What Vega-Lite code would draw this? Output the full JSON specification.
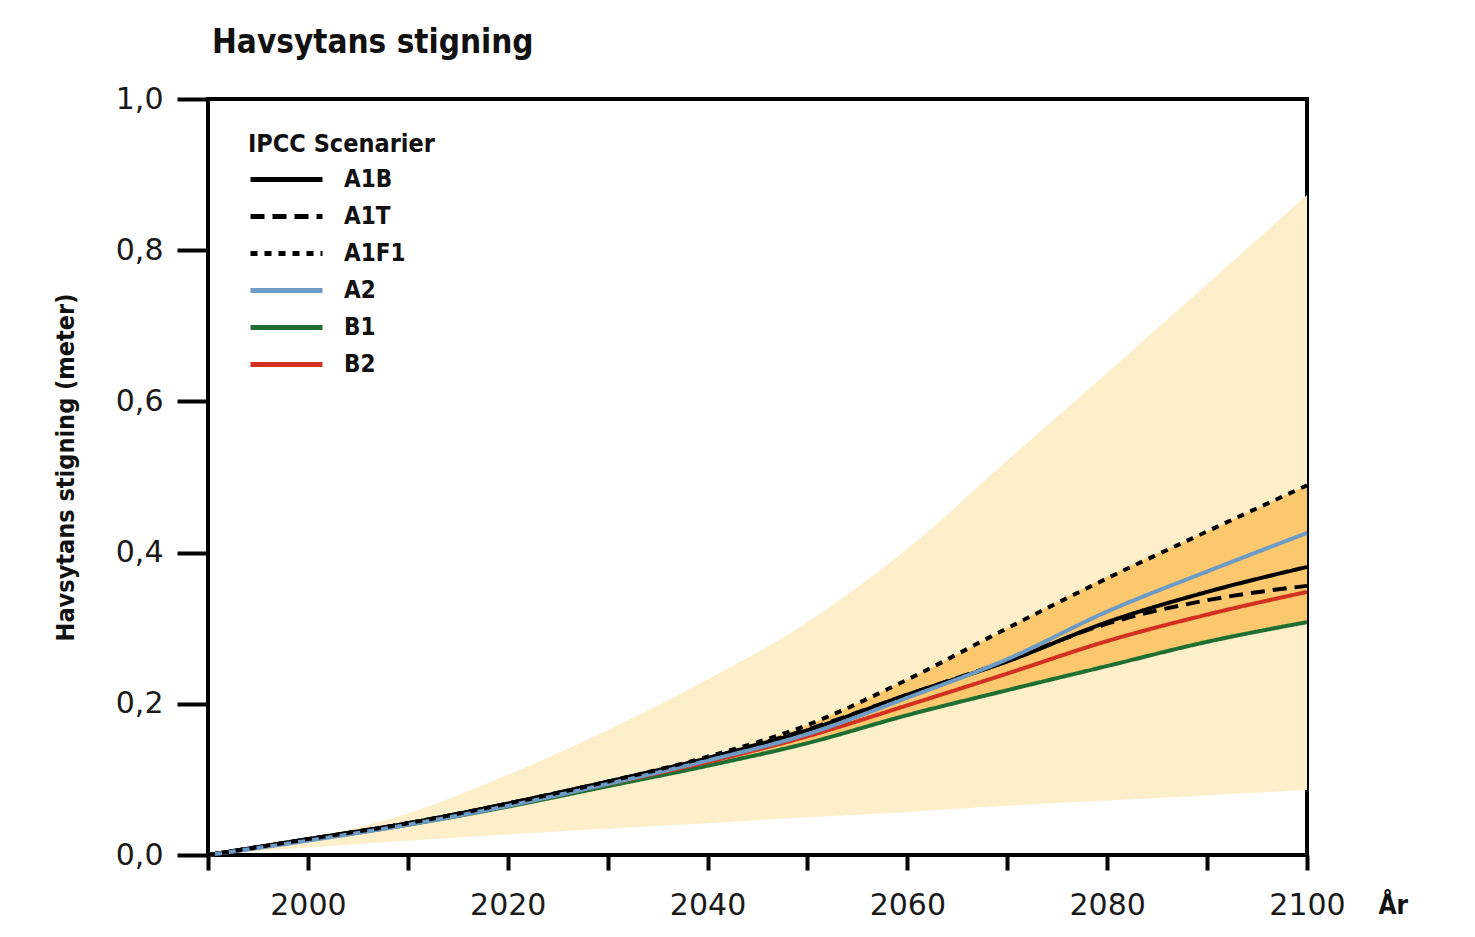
{
  "$schema": "https://vega.github.io/schema/vega-lite/v6.json",
  "autosize": "none",
  "width": 1099,
  "height": 756,
  "padding": {"left": 208, "top": 99, "right": 168, "bottom": 82},
  "background": "white",
  "title": {
    "text": "Havsytans stigning",
    "anchor": "start",
    "frame": "group",
    "font": "DejaVu Sans Condensed, sans-serif",
    "fontSize": 33,
    "fontWeight": "bold",
    "color": "#111111",
    "dx": 4,
    "offset": 24
  },
  "config": {
    "view": {"stroke": "#000000", "strokeWidth": 4},
    "axis": {"grid": false, "domain": false}
  },
  "datasets": {
    "band": [
      {"year": 1990, "lo": 0.0, "hi": 0.0, "ilo": 0.0, "ihi": 0.0},
      {"year": 2000, "lo": 0.01, "hi": 0.022, "ilo": 0.02, "ihi": 0.021},
      {"year": 2010, "lo": 0.019, "hi": 0.055, "ilo": 0.04, "ihi": 0.042},
      {"year": 2020, "lo": 0.027, "hi": 0.106, "ilo": 0.064, "ihi": 0.068},
      {"year": 2030, "lo": 0.035, "hi": 0.165, "ilo": 0.091, "ihi": 0.097},
      {"year": 2040, "lo": 0.042, "hi": 0.232, "ilo": 0.118, "ihi": 0.13},
      {"year": 2050, "lo": 0.05, "hi": 0.308, "ilo": 0.148, "ihi": 0.172},
      {"year": 2060, "lo": 0.057, "hi": 0.405, "ilo": 0.185, "ihi": 0.232},
      {"year": 2070, "lo": 0.065, "hi": 0.522, "ilo": 0.218, "ihi": 0.30},
      {"year": 2080, "lo": 0.072, "hi": 0.638, "ilo": 0.25, "ihi": 0.368},
      {"year": 2090, "lo": 0.079, "hi": 0.755, "ilo": 0.282, "ihi": 0.428},
      {"year": 2100, "lo": 0.086, "hi": 0.873, "ilo": 0.308, "ihi": 0.489}
    ],
    "lines": [
      {"year": 1990, "scenario": "B1", "value": 0.0},
      {"year": 2000, "scenario": "B1", "value": 0.02},
      {"year": 2010, "scenario": "B1", "value": 0.04},
      {"year": 2020, "scenario": "B1", "value": 0.064},
      {"year": 2030, "scenario": "B1", "value": 0.091},
      {"year": 2040, "scenario": "B1", "value": 0.118},
      {"year": 2050, "scenario": "B1", "value": 0.148},
      {"year": 2060, "scenario": "B1", "value": 0.185},
      {"year": 2070, "scenario": "B1", "value": 0.218},
      {"year": 2080, "scenario": "B1", "value": 0.25},
      {"year": 2090, "scenario": "B1", "value": 0.282},
      {"year": 2100, "scenario": "B1", "value": 0.308},
      {"year": 1990, "scenario": "B2", "value": 0.0},
      {"year": 2000, "scenario": "B2", "value": 0.02},
      {"year": 2010, "scenario": "B2", "value": 0.041},
      {"year": 2020, "scenario": "B2", "value": 0.066},
      {"year": 2030, "scenario": "B2", "value": 0.094},
      {"year": 2040, "scenario": "B2", "value": 0.123},
      {"year": 2050, "scenario": "B2", "value": 0.157},
      {"year": 2060, "scenario": "B2", "value": 0.198},
      {"year": 2070, "scenario": "B2", "value": 0.24},
      {"year": 2080, "scenario": "B2", "value": 0.283},
      {"year": 2090, "scenario": "B2", "value": 0.318},
      {"year": 2100, "scenario": "B2", "value": 0.348},
      {"year": 1990, "scenario": "A1B", "value": 0.0},
      {"year": 2000, "scenario": "A1B", "value": 0.021},
      {"year": 2010, "scenario": "A1B", "value": 0.042},
      {"year": 2020, "scenario": "A1B", "value": 0.068},
      {"year": 2030, "scenario": "A1B", "value": 0.097},
      {"year": 2040, "scenario": "A1B", "value": 0.128},
      {"year": 2050, "scenario": "A1B", "value": 0.165},
      {"year": 2060, "scenario": "A1B", "value": 0.212},
      {"year": 2070, "scenario": "A1B", "value": 0.256},
      {"year": 2080, "scenario": "A1B", "value": 0.308},
      {"year": 2090, "scenario": "A1B", "value": 0.348},
      {"year": 2100, "scenario": "A1B", "value": 0.381},
      {"year": 1990, "scenario": "A1T", "value": 0.0},
      {"year": 2000, "scenario": "A1T", "value": 0.021},
      {"year": 2010, "scenario": "A1T", "value": 0.042},
      {"year": 2020, "scenario": "A1T", "value": 0.068},
      {"year": 2030, "scenario": "A1T", "value": 0.097},
      {"year": 2040, "scenario": "A1T", "value": 0.128},
      {"year": 2050, "scenario": "A1T", "value": 0.166},
      {"year": 2060, "scenario": "A1T", "value": 0.212},
      {"year": 2070, "scenario": "A1T", "value": 0.257},
      {"year": 2080, "scenario": "A1T", "value": 0.306},
      {"year": 2090, "scenario": "A1T", "value": 0.337},
      {"year": 2100, "scenario": "A1T", "value": 0.356},
      {"year": 1990, "scenario": "A2", "value": 0.0},
      {"year": 2000, "scenario": "A2", "value": 0.019},
      {"year": 2010, "scenario": "A2", "value": 0.04},
      {"year": 2020, "scenario": "A2", "value": 0.065},
      {"year": 2030, "scenario": "A2", "value": 0.094},
      {"year": 2040, "scenario": "A2", "value": 0.125},
      {"year": 2050, "scenario": "A2", "value": 0.16},
      {"year": 2060, "scenario": "A2", "value": 0.208},
      {"year": 2070, "scenario": "A2", "value": 0.259},
      {"year": 2080, "scenario": "A2", "value": 0.322},
      {"year": 2090, "scenario": "A2", "value": 0.375},
      {"year": 2100, "scenario": "A2", "value": 0.426},
      {"year": 1990, "scenario": "A1F1", "value": 0.0},
      {"year": 2000, "scenario": "A1F1", "value": 0.021},
      {"year": 2010, "scenario": "A1F1", "value": 0.042},
      {"year": 2020, "scenario": "A1F1", "value": 0.068},
      {"year": 2030, "scenario": "A1F1", "value": 0.097},
      {"year": 2040, "scenario": "A1F1", "value": 0.13},
      {"year": 2050, "scenario": "A1F1", "value": 0.172},
      {"year": 2060, "scenario": "A1F1", "value": 0.232},
      {"year": 2070, "scenario": "A1F1", "value": 0.30},
      {"year": 2080, "scenario": "A1F1", "value": 0.366},
      {"year": 2090, "scenario": "A1F1", "value": 0.428},
      {"year": 2100, "scenario": "A1F1", "value": 0.489}
    ]
  },
  "layer": [
    {
      "data": {"name": "band"},
      "mark": {"type": "area", "color": "#fdefc9", "interpolate": "monotone"},
      "encoding": {
        "x": {
          "field": "year", "type": "quantitative",
          "scale": {"domain": [1990, 2100], "nice": false, "zero": false},
          "axis": {
            "values": [1990, 2000, 2010, 2020, 2030, 2040, 2050, 2060, 2070, 2080, 2090, 2100],
            "labelExpr": "datum.value % 20 == 0 ? format(datum.value, 'd') : ''",
            "tickSize": 15, "tickWidth": 4, "tickColor": "#000000",
            "labelFont": "DejaVu Sans", "labelFontSize": 30, "labelColor": "#1a1a1a",
            "labelPadding": 20, "labelFlush": false, "labelOverlap": false,
            "title": "År",
            "titleFont": "DejaVu Sans Condensed, sans-serif",
            "titleFontSize": 26, "titleFontWeight": "bold", "titleColor": "#111111",
            "titleX": 1170, "titleY": 50, "titleAlign": "left", "titleBaseline": "middle", "titleAnchor": null
          }
        },
        "y": {
          "field": "lo", "type": "quantitative",
          "scale": {"domain": [0, 1], "nice": false},
          "axis": {
            "values": [0, 0.2, 0.4, 0.6, 0.8, 1.0],
            "labelExpr": "replace(format(datum.value, '.1f'), '.', ',')",
            "tickSize": 31, "tickWidth": 4, "tickColor": "#000000",
            "labelFont": "DejaVu Sans", "labelFontSize": 30, "labelColor": "#1a1a1a",
            "labelPadding": 14, "labelFlush": false, "labelOverlap": false,
            "title": "Havsytans stigning (meter)",
            "titleFont": "DejaVu Sans Condensed, sans-serif",
            "titleFontSize": 25, "titleFontWeight": "bold", "titleColor": "#111111",
            "titleX": -143, "titleY": 368, "titleAlign": "center", "titleBaseline": "middle", "titleAngle": -90
          }
        },
        "y2": {"field": "hi"}
      }
    },
    {
      "data": {"name": "band"},
      "mark": {"type": "area", "color": "#fbc86e", "interpolate": "monotone"},
      "encoding": {
        "x": {"field": "year", "type": "quantitative"},
        "y": {"field": "ilo", "type": "quantitative"},
        "y2": {"field": "ihi"}
      }
    },
    {
      "data": {"name": "lines"},
      "mark": {"type": "line", "strokeWidth": 4, "interpolate": "monotone", "strokeCap": "butt"},
      "encoding": {
        "x": {"field": "year", "type": "quantitative"},
        "y": {"field": "value", "type": "quantitative"},
        "color": {
          "field": "scenario", "type": "nominal",
          "scale": {
            "domain": ["A1B", "A1T", "A1F1", "A2", "B1", "B2"],
            "range": ["#000000", "#000000", "#000000", "#6d9bc6", "#1f6f33", "#d4301f"]
          },
          "legend": {
            "title": "IPCC Scenarier",
            "orient": "none", "legendX": 40, "legendY": 33,
            "titleFont": "DejaVu Sans Condensed, sans-serif",
            "titleFontSize": 25, "titleFontWeight": "bold", "titleColor": "#111111",
            "titlePadding": 8, "titleLimit": 500,
            "labelFont": "DejaVu Sans Condensed, sans-serif",
            "labelFontSize": 24, "labelFontWeight": "bold", "labelColor": "#111111",
            "symbolType": "M-1,0H5", "symbolSize": 576, "symbolStrokeWidth": 5,
            "labelOffset": 67, "rowPadding": 10, "padding": 0
          }
        },
        "strokeDash": {
          "field": "scenario", "type": "nominal",
          "scale": {
            "domain": ["A1B", "A1T", "A1F1", "A2", "B1", "B2"],
            "range": [[1, 0], [14, 8], [7, 7], [1, 0], [1, 0], [1, 0]]
          },
          "legend": {"title": "IPCC Scenarier"}
        },
        "order": {"field": "scenario"}
      }
    }
  ]
}
